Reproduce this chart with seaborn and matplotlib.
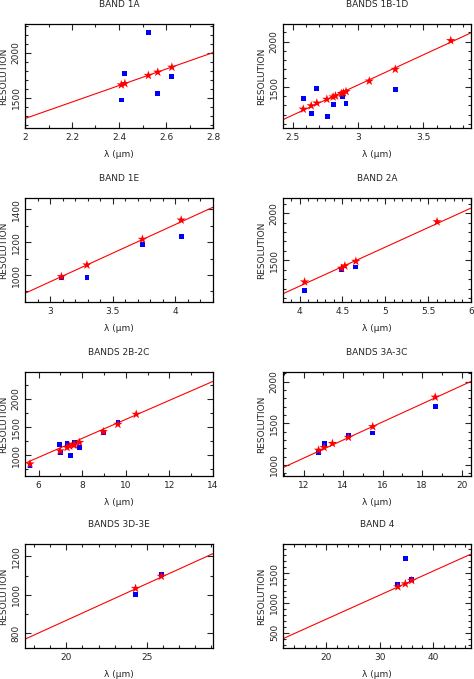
"""Resolution vs wavelength for each spectrometer band."""

import matplotlib

matplotlib.use("Agg")
import matplotlib.pyplot as plt
import pandas as pd
import seaborn as sns
from matplotlib.ticker import FormatStrFormatter, MultipleLocator

# ---- data (wavelength in um, resolution) ----
# Band 1A
WL_1A = [2.41, 2.425, 2.525, 2.565, 2.625]
PRED_1A = [1642, 1657, 1747, 1783, 1838]
MEAS_WL_1A = [2.41, 2.425, 2.525, 2.565, 2.625]
MEAS_1A = [1474, 1765, 2219, 1545, 1731]
LINE_WL_1A = [2.0, 2.8]
LINE_R_1A = [1269, 2000]

# Bands 1B-1D
WL_1B = [2.579, 2.640, 2.683, 2.760, 2.808, 2.826, 2.871, 2.887, 2.907, 3.085, 3.284, 3.709]
PRED_1B = [1259, 1296, 1326, 1367, 1393, 1404, 1430, 1437, 1452, 1567, 1696, 2011]
MEAS_WL_1B = [2.579, 2.640, 2.683, 2.767, 2.808, 2.877, 2.907, 3.284]
MEAS_1B = [1374, 1207, 1489, 1174, 1307, 1396, 1322, 1478]
LINE_WL_1B = [2.424, 3.864]
LINE_R_1B = [1144, 2096]

# Band 1E
WL_1E = [3.088, 3.292, 3.737, 4.047]
PRED_1E = [990, 1061, 1217, 1334]
MEAS_WL_1E = [3.088, 3.292, 3.737, 4.050]
MEAS_1E = [982, 986, 1185, 1234]
LINE_WL_1E = [2.796, 4.302]
LINE_R_1E = [889, 1412]

# Band 2A
WL_2A = [4.058, 4.489, 4.528, 4.656, 5.604]
PRED_2A = [1270, 1415, 1440, 1489, 1908]
MEAS_WL_2A = [4.058, 4.489, 4.656]
MEAS_2A = [1181, 1397, 1429]
LINE_WL_2A = [3.806, 6.0]
LINE_R_2A = [1145, 2053]

# Bands 2B-2C
WL_2B = [5.61, 6.99, 7.31, 7.43, 7.61, 7.65, 7.88, 8.97, 9.64, 10.48]
PRED_2B = [845, 1077, 1137, 1161, 1179, 1185, 1226, 1417, 1548, 1726]
MEAS_WL_2B = [5.61, 6.97, 6.99, 7.31, 7.46, 7.65, 7.88, 8.97, 9.64]
MEAS_2B = [815, 1190, 1048, 1208, 994, 1226, 1137, 1405, 1583]
LINE_WL_2B = [5.38, 14.0]
LINE_R_2B = [857, 2310]

# Bands 3A-3C
WL_3A = [12.76, 13.04, 13.46, 14.27, 15.50, 18.66]
PRED_3A = [1177, 1210, 1258, 1331, 1460, 1815]
MEAS_WL_3A = [12.76, 13.04, 14.27, 15.50, 18.66]
MEAS_3A = [1153, 1262, 1351, 1383, 1698]
LINE_WL_3A = [10.96, 20.47]
LINE_R_3A = [968, 2004]

# Bands 3D-3E
WL_3D = [24.3, 25.9]
PRED_3D = [1033, 1096]
MEAS_WL_3D = [24.3, 25.9]
MEAS_3D = [1003, 1104]
LINE_WL_3D = [17.43, 29.11]
LINE_R_3D = [769, 1214]

# Band 4
WL_4 = [33.4, 34.8, 36.0]
PRED_4 = [1270, 1320, 1376]
MEAS_WL_4 = [33.4, 34.8, 36.0]
MEAS_4 = [1303, 1747, 1399]
LINE_WL_4 = [11.92, 47.08]
LINE_R_4 = [399, 1820]

TITLES = ["BAND 1A", "BANDS 1B-1D", "BAND 1E", "BAND 2A",
          "BANDS 2B-2C", "BANDS 3A-3C", "BANDS 3D-3E", "BAND 4"]
YLIMS = [(1164, 2317), (1052, 2193), (836, 1468), (1057, 2160),
         (631, 2476), (867, 2117), (723, 1264), (242, 1989)]
# (x major, x minor, y major, y minor)
TICKS = [(0.2, 0.1, 500, 100), (0.5, 0.1, 500, 100), (0.5, 0.1, 200, 100),
         (0.5, 0.1, 500, 100), (2, 1, 500, 250), (2, 1, 500, 100),
         (5, 1, 200, 100), (10, 2, 500, 100)]

panels = [
    (WL_1A, PRED_1A, MEAS_WL_1A, MEAS_1A, LINE_WL_1A, LINE_R_1A),
    (WL_1B, PRED_1B, MEAS_WL_1B, MEAS_1B, LINE_WL_1B, LINE_R_1B),
    (WL_1E, PRED_1E, MEAS_WL_1E, MEAS_1E, LINE_WL_1E, LINE_R_1E),
    (WL_2A, PRED_2A, MEAS_WL_2A, MEAS_2A, LINE_WL_2A, LINE_R_2A),
    (WL_2B, PRED_2B, MEAS_WL_2B, MEAS_2B, LINE_WL_2B, LINE_R_2B),
    (WL_3A, PRED_3A, MEAS_WL_3A, MEAS_3A, LINE_WL_3A, LINE_R_3A),
    (WL_3D, PRED_3D, MEAS_WL_3D, MEAS_3D, LINE_WL_3D, LINE_R_3D),
    (WL_4, PRED_4, MEAS_WL_4, MEAS_4, LINE_WL_4, LINE_R_4),
]

sns.set_theme(style="ticks")
plt.rcParams.update(
    {
        "font.family": ["DejaVu Sans"],
        "font.size": 6.5,
        "axes.titlesize": 6.5,
        "axes.labelsize": 6.5,
        "xtick.labelsize": 6.5,
        "ytick.labelsize": 6.5,
        "axes.edgecolor": "black",
        "axes.linewidth": 0.9,
        "xtick.direction": "in",
        "ytick.direction": "in",
        "xtick.top": True,
        "ytick.right": True,
        "xtick.major.size": 4,
        "ytick.major.size": 4,
        "xtick.minor.size": 2,
        "ytick.minor.size": 2,
        "xtick.major.width": 0.8,
        "ytick.major.width": 0.8,
        "xtick.minor.width": 0.8,
        "ytick.minor.width": 0.8,
        "xtick.major.pad": 3.5,
        "ytick.major.pad": 3.0,
    }
)

fig = plt.figure(figsize=(4.74, 6.79), dpi=100)
W, H = 474, 679
col_left = [25, 283]
row_top = [24, 198, 372, 544]
ax_w, ax_h = 188, 104

for i, (wl, pred, mwl, meas, lwl, lr) in enumerate(panels):
    r, c = divmod(i, 2)
    rect = [col_left[c] / W, 1 - (row_top[r] + ax_h) / H, ax_w / W, ax_h / H]
    ax = fig.add_axes(rect)

    line_df = pd.DataFrame({"wl": lwl, "res": lr})
    sns.lineplot(data=line_df, x="wl", y="res", color="#ff0000", linewidth=0.8, ax=ax)
    meas_df = pd.DataFrame({"wl": mwl, "res": meas})
    sns.scatterplot(data=meas_df, x="wl", y="res", marker="s", s=12, color="#0000ff",
                    edgecolor="none", ax=ax, zorder=3)
    pred_df = pd.DataFrame({"wl": wl, "res": pred})
    sns.scatterplot(data=pred_df, x="wl", y="res", marker="*", s=50, color="#ff0000",
                    edgecolor="none", ax=ax, zorder=4)

    ax.set_xlim(lwl[0], lwl[1])
    ax.set_ylim(*YLIMS[i])
    xmaj, xmin, ymaj, ymin = TICKS[i]
    ax.xaxis.set_major_locator(MultipleLocator(xmaj))
    ax.xaxis.set_minor_locator(MultipleLocator(xmin))
    ax.yaxis.set_major_locator(MultipleLocator(ymaj))
    ax.yaxis.set_minor_locator(MultipleLocator(ymin))
    ax.xaxis.set_major_formatter(FormatStrFormatter("%g"))
    ax.yaxis.set_major_formatter(FormatStrFormatter("%g"))
    ax.tick_params(axis="y", labelrotation=90)
    plt.setp(ax.get_yticklabels(), rotation=90, va="center", ha="right")

    ax.set_title(TITLES[i], pad=12)
    ax.set_xlabel("λ (µm)", labelpad=6)
    ax.set_ylabel("RESOLUTION", labelpad=3)

fig.savefig("out.png", dpi=100)
